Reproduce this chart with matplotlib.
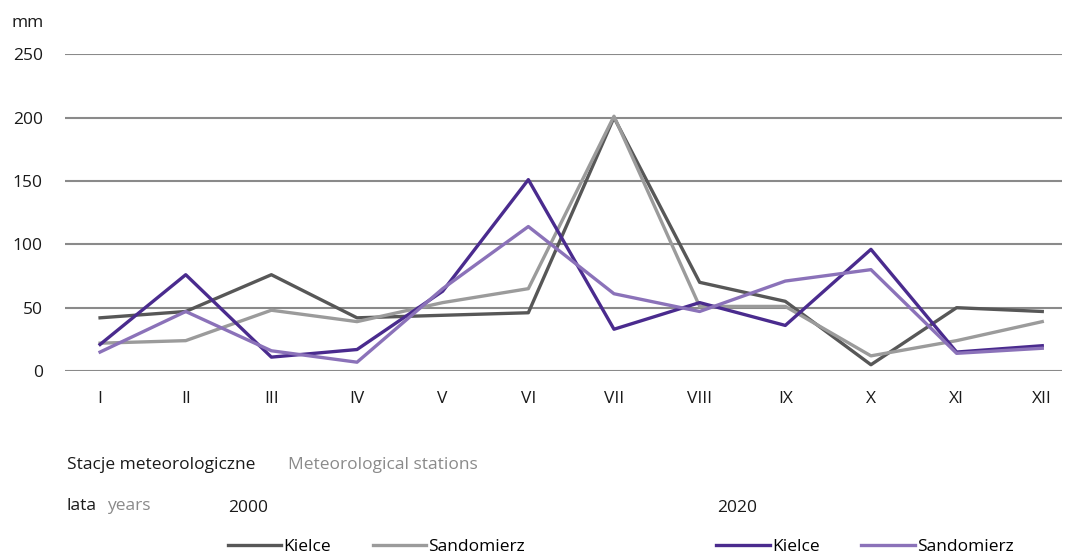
import numpy as np
import matplotlib.pyplot as plt

plt.rcParams['font.family'] = ['Open Sans', 'DejaVu Sans']

months = ['I', 'II', 'III', 'IV', 'V', 'VI', 'VII', 'VIII', 'IX', 'X', 'XI', 'XII']
kielce_2000 = [42, 47, 76, 42, 44, 46, 200, 70, 55, 5, 50, 47]
sandomierz_2000 = [22, 24, 48, 39, 54, 65, 201, 51, 51, 12, 24, 39]
kielce_2020 = [21, 76, 11, 17, 63, 151, 33, 54, 36, 96, 15, 20]
sandomierz_2020 = [15, 47, 16, 7, 65, 114, 61, 47, 71, 80, 14, 18]

c_k00 = '#575757'
c_s00 = '#9b9b9b'
c_k20 = '#4a2b8e'
c_s20 = '#8b72b9'

fig = plt.figure(figsize=(10.79, 5.58), dpi=100)
ax = fig.add_axes([0.0602, 0.335, 0.924, 0.568])

x = np.arange(len(months))
lw = 2.4
l1, = ax.plot(x, kielce_2000, color=c_k00, lw=lw, label='Kielce')
l2, = ax.plot(x, sandomierz_2000, color=c_s00, lw=lw, label='Sandomierz')
l3, = ax.plot(x, kielce_2020, color=c_k20, lw=lw, label='Kielce')
l4, = ax.plot(x, sandomierz_2020, color=c_s20, lw=lw, label='Sandomierz')

ax.set_xlim(-0.41, 11.23)
ax.set_ylim(0, 250)
ax.set_yticks(np.arange(0, 251, 50))
ax.set_xticks(x)
ax.set_xticklabels(months)
ax.yaxis.grid(True, color='#8a8a8a', lw=1.5)
ax.set_axisbelow(True)
for s in ax.spines.values():
    s.set_visible(False)
ax.tick_params(axis='both', length=0, labelsize=12.5, colors='#1a1a1a')
ax.tick_params(axis='x', pad=14)
ax.tick_params(axis='y', pad=16)

fig.text(0.011, 0.958, 'mm', fontsize=12.5, color='#1a1a1a', va='center')

fs = 12.5
fig.text(0.062, 0.166, 'Stacje meteorologiczne', fontsize=fs, color='#1a1a1a', va='center')
fig.text(0.267, 0.166, 'Meteorological stations', fontsize=fs, color='#8a8a8a', va='center')
fig.text(0.062, 0.093, 'lata', fontsize=fs, color='#1a1a1a', va='center')
fig.text(0.099, 0.093, 'years', fontsize=fs, color='#8a8a8a', va='center')
fig.text(0.211, 0.090, '2000', fontsize=fs, color='#1a1a1a', va='center')
fig.text(0.665, 0.090, '2020', fontsize=fs, color='#1a1a1a', va='center')

leg_kw = dict(ncol=2, frameon=False, fontsize=fs, handlelength=3.1,
              handletextpad=0.1, columnspacing=2.4, borderaxespad=0,
              borderpad=0, loc='center left')
leg1 = fig.legend(handles=[l1, l2], bbox_to_anchor=(0.211, 0.02), **leg_kw)
leg2 = fig.legend(handles=[l3, l4], bbox_to_anchor=(0.664, 0.02), **leg_kw)

fig.savefig('out.png', dpi=100)
